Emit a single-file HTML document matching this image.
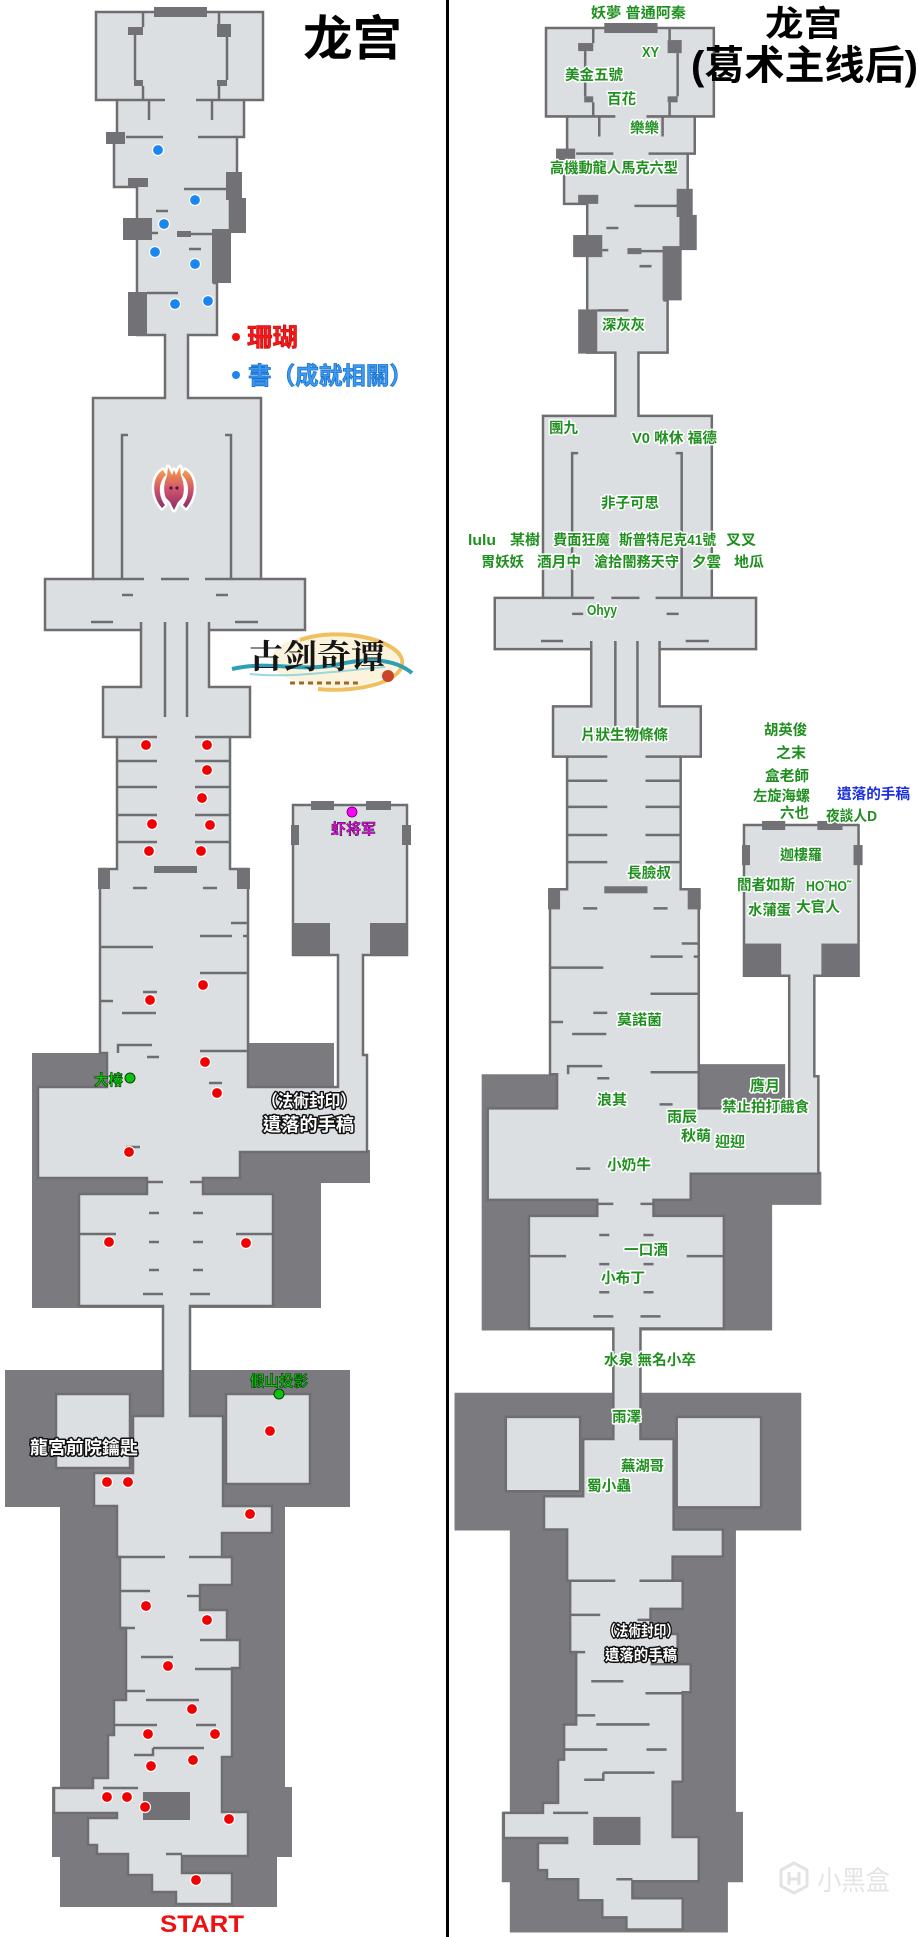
<!DOCTYPE html>
<html><head><meta charset="utf-8">
<style>
html,body{margin:0;padding:0;background:#fff;}
svg{display:block;}
.g{font-family:"Liberation Sans","Noto Sans CJK TC",sans-serif;font-size:14.5px;font-weight:bold;fill:#1f8f1f;stroke:#fff;stroke-width:3px;paint-order:stroke;stroke-linejoin:round;}
.b{font-family:"Liberation Sans","Noto Sans CJK TC",sans-serif;font-size:14.5px;font-weight:bold;fill:#1a2ee0;stroke:#fff;stroke-width:3px;paint-order:stroke;stroke-linejoin:round;}
.w{font-family:"Liberation Sans","Noto Sans CJK TC",sans-serif;font-weight:bold;fill:#fff;stroke:#111;stroke-width:3px;paint-order:stroke;stroke-linejoin:round;}
.t{font-family:"Liberation Sans","Noto Sans CJK SC",sans-serif;font-weight:bold;fill:#000;}
</style></head><body>
<svg width="918" height="1937" viewBox="0 0 918 1937" xmlns="http://www.w3.org/2000/svg">
<defs>
<linearGradient id="dg" x1="0" y1="0" x2="0" y2="1">
<stop offset="0" stop-color="#f5a04a"/><stop offset="0.5" stop-color="#d2566a"/><stop offset="1" stop-color="#8a2c6c"/>
</linearGradient>
<g id="map">
<!-- dark background areas -->
<path fill="#7b7a7e" d="M32 1053H250V1308H32Z M248 1043H334V1090H248Z M238 1150H370V1183H238Z M238 1150H321V1308H238Z"/>
<path fill="#7b7a7e" d="M5 1370H350V1507H285V1787H292V1857H277V1907H60V1857H52V1787H60V1507H5Z"/>
<!-- main light spine -->
<path fill="#dcdfe2" stroke="#6e6e71" stroke-width="2.5" stroke-linejoin="miter" d="M96 12H263V100H244V137H237V180H230V232H214V283H217V335H188V398H261V579H305V630H209V687H250V737H230V869H248V1087H338V955H293V805H407V955H363V1055H367V1152H240V1178H203V1194H273V1306H190V1416H223V1506H272V1533H222V1557H232V1585H200V1610H227V1640H240V1668H232V1757H222V1812H248V1856H182V1873H232V1904H176V1892H152V1875H128V1854H97V1845H88V1818H117V1813H54V1788H93V1778H108V1735H114V1700H126V1628H120V1557H117V1506H94V1473H133V1416H163V1306H79V1194H147V1178H38V1087H107V1053H100V869H117V737H103V687H141V630H45V579H93V398H165V335H137V187H114V137H117V100H96Z"/>
<rect x="56" y="1394" width="74" height="74" fill="#dcdfe2" stroke="#6e6e71" stroke-width="2.5"/>
<rect x="226" y="1394" width="84" height="90" fill="#dcdfe2" stroke="#6e6e71" stroke-width="2.5"/>
<!-- inner walls -->
<path fill="none" stroke="#6e6e71" stroke-width="2.5" d="
M143 12V27 M135 35V80 M143 86V100 M219 12V24 M227 37V80 M219 86V100
M117 100H165 M196 100H244 M149 100V120 M212 100V120 M126 137H163 M198 137H237 M184 189H228 M156 211H168 M152 233H158 M191 234H212 M189 249H201 M147 293H178
M128 435H122V579 M225 435H231V579 M93 579H144 M161 579H189 M205 579H261
M122 595H133 M216 595H228 M91 622H113 M235 622H258
M141 622V630 M209 622V630 M165 622V717 M187 622V717
M117 737H157 M195 737H230 M117 761H157 M195 761H230 M117 787H157 M195 787H230 M117 815H157 M195 815H230 M117 842H157 M195 842H230
M133 888H147 M203 888H217 M231 923H247 M200 936H232 M243 936H247 M100 947H153 M200 973H248 M143 992H157 M100 1001H113 M122 1013H156 M118 1053V1045H152 M147 1057H159 M200 1051H248
M209 1083H222 M126 1147H140
M147 1182H163 M190 1182H203
M149 1213H159 M193 1213H203 M149 1242H159 M193 1242H203 M149 1270H159 M193 1270H203 M143 1294H163 M190 1294H210 M79 1234H116 M236 1234H273
M117 1557H165 M189 1557H232 M120 1591H150 M187 1596H200 M120 1628H135 M200 1640H227 M141 1657H173 M195 1669H232 M126 1691H145 M146 1700H199 M113 1725H157 M196 1725H216 M153 1748H204 M153 1748V1755H134 M103 1788H138 M166 1854H182"/>
<!-- dark blocks -->
<g fill="#727175">
<rect x="154" y="7" width="53" height="10"/>
<rect x="128" y="27" width="15" height="8"/><rect x="134" y="80" width="9" height="6"/>
<rect x="217" y="24" width="14" height="13"/><rect x="217" y="80" width="10" height="6"/>
<rect x="106" y="132" width="19" height="12"/><rect x="128" y="178" width="20" height="9"/>
<rect x="226" y="172" width="16" height="28"/><rect x="230" y="198" width="16" height="35"/>
<rect x="123" y="218" width="29" height="22"/><rect x="177" y="231" width="14" height="6"/>
<rect x="212" y="229" width="19" height="54"/><rect x="128" y="292" width="19" height="44"/>
<rect x="154" y="866" width="43" height="7"/>
<rect x="98" y="868" width="12" height="21"/><rect x="237" y="868" width="13" height="21"/>
<rect x="311" y="801" width="23" height="9"/><rect x="366" y="801" width="25" height="9"/>
<rect x="291" y="825" width="8" height="20"/><rect x="402" y="825" width="9" height="20"/>
<rect x="293" y="923" width="37" height="32"/><rect x="370" y="923" width="37" height="32"/>
<rect x="143" y="1792" width="47" height="28"/>
</g>
</g>
</defs>

<use href="#map"/>
<use href="#map" transform="matrix(1.005 0 0 1.005 449.52 15.94)"/>

<!-- divider -->
<rect x="446" y="0" width="3" height="1937" fill="#000"/>

<!-- LEFT titles / legend -->
<text class="t" x="303" y="55" font-size="48" textLength="99" lengthAdjust="spacingAndGlyphs">龙宫</text>
<circle cx="236" cy="337" r="4" fill="#f01010"/>
<text x="247" y="346" font-family="Liberation Sans,Noto Sans CJK TC,sans-serif" font-size="25" font-weight="bold" fill="#f21a1a" stroke="#c00" stroke-width="0.6" textLength="51" lengthAdjust="spacingAndGlyphs">珊瑚</text>
<circle cx="236" cy="375" r="4" fill="#1a86f0"/>
<text x="248" y="384" font-family="Liberation Sans,Noto Sans CJK TC,sans-serif" font-size="24" font-weight="bold" fill="#3d9cf0" stroke="#1a6fd0" stroke-width="0.8" textLength="165" lengthAdjust="spacingAndGlyphs">書（成就相關）</text>

<!-- dragon icon -->
<g transform="translate(174,488)">
<g fill="#fff" stroke="#fff" stroke-width="5" stroke-linejoin="round">
<path d="M-7,-12 L-6,-21 L-2,-13 L0,-18 L2,-13 L6,-21 L7,-12 C10,-6 11,4 8,10 L4,14 L0,22 L-4,14 L-8,10 C-11,4 -10,-6 -7,-12 Z"/>
<path d="M-11,-18 C-22,-12 -23,8 -12,20 L-9,17 C-16,8 -16,-6 -8,-13 Z"/>
<path d="M11,-18 C22,-12 23,8 12,20 L9,17 C16,8 16,-6 8,-13 Z"/>
</g>
<g fill="url(#dg)">
<path d="M-7,-12 L-6,-21 L-2,-13 L0,-18 L2,-13 L6,-21 L7,-12 C10,-6 11,4 8,10 L4,14 L0,22 L-4,14 L-8,10 C-11,4 -10,-6 -7,-12 Z"/>
<path d="M-11,-18 C-22,-12 -23,8 -12,20 L-9,17 C-16,8 -16,-6 -8,-13 Z"/>
<path d="M11,-18 C22,-12 23,8 12,20 L9,17 C16,8 16,-6 8,-13 Z"/>
</g>
<circle cx="-3" cy="0" r="1.6" fill="#4a1a44"/><circle cx="3" cy="0" r="1.6" fill="#4a1a44"/>
</g>

<!-- logo -->
<g>
<ellipse cx="335" cy="660" rx="64" ry="27" fill="#fbf1d6" opacity="0.85"/>
<path d="M300 640 C340 626 398 640 402 660 C406 681 360 693 318 689" fill="none" stroke="#f0c060" stroke-width="4"/>
<path d="M232 669 C270 660 300 673 340 664 C372 657 396 660 412 673" fill="none" stroke="#2e9fb4" stroke-width="4"/>
<path d="M250 674 C290 678 330 672 385 667" fill="none" stroke="#9ad6dc" stroke-width="2"/>
<text x="249" y="668" font-family="Noto Serif CJK SC,serif" font-size="33" font-weight="bold" fill="#151515" textLength="136" lengthAdjust="spacingAndGlyphs">古剑奇谭</text>
<path d="M290 683 H360" stroke="#9a6a2a" stroke-width="3" stroke-dasharray="5 4"/>
<circle cx="388" cy="676" r="6" fill="#c8452a"/>
</g>

<!-- red dots (coral) -->
<g fill="#f00000" stroke="#fff" stroke-width="1.2">
<circle cx="146" cy="745" r="5.5"/><circle cx="207" cy="745" r="5.5"/><circle cx="207" cy="770" r="5.5"/><circle cx="202" cy="798" r="5.5"/>
<circle cx="152" cy="824" r="5.5"/><circle cx="210" cy="825" r="5.5"/><circle cx="149" cy="851" r="5.5"/><circle cx="201" cy="851" r="5.5"/>
<circle cx="150" cy="1000" r="5.5"/><circle cx="203" cy="985" r="5.5"/><circle cx="205" cy="1062" r="5.5"/><circle cx="217" cy="1093" r="5.5"/><circle cx="129" cy="1152" r="5.5"/>
<circle cx="109" cy="1242" r="5.5"/><circle cx="246" cy="1243" r="5.5"/>
<circle cx="270" cy="1431" r="5.5"/><circle cx="107" cy="1482" r="5.5"/><circle cx="128" cy="1482" r="5.5"/><circle cx="250" cy="1514" r="5.5"/>
<circle cx="146" cy="1606" r="5.5"/><circle cx="207" cy="1620" r="5.5"/><circle cx="168" cy="1666" r="5.5"/><circle cx="192" cy="1709" r="5.5"/>
<circle cx="148" cy="1734" r="5.5"/><circle cx="215" cy="1734" r="5.5"/><circle cx="151" cy="1766" r="5.5"/><circle cx="193" cy="1760" r="5.5"/>
<circle cx="107" cy="1797" r="5.5"/><circle cx="127" cy="1797" r="5.5"/><circle cx="145" cy="1807" r="5.5"/><circle cx="229" cy="1819" r="5.5"/>
<circle cx="196" cy="1880" r="5.5"/>
</g>
<!-- blue dots (books) -->
<g fill="#1a86f0" stroke="#fff" stroke-width="1.2">
<circle cx="158" cy="150" r="5.5"/><circle cx="195" cy="200" r="5.5"/><circle cx="164" cy="224" r="5.5"/><circle cx="155" cy="252" r="5.5"/>
<circle cx="195" cy="264" r="5.5"/><circle cx="175" cy="304" r="5.5"/><circle cx="208" cy="301" r="5.5"/>
</g>

<!-- left labels -->
<circle cx="352" cy="812" r="5" fill="#ff00ff" stroke="#600060" stroke-width="0.8"/>
<text x="331" y="834" font-family="Liberation Sans,Noto Sans CJK SC,sans-serif" font-size="15" font-weight="bold" fill="#ff00ff" stroke="#222" stroke-width="0.5" textLength="45" lengthAdjust="spacingAndGlyphs">虾将军</text>
<text x="94" y="1085" font-family="Liberation Sans,Noto Sans CJK TC,sans-serif" font-size="15" font-weight="bold" fill="#00d000" stroke="#0a300a" stroke-width="0.6" textLength="29" lengthAdjust="spacingAndGlyphs">大椿</text>
<circle cx="130" cy="1078" r="5" fill="#10c010" stroke="#064006" stroke-width="1"/>
<text class="w" x="262" y="1107" font-size="17" textLength="94" lengthAdjust="spacingAndGlyphs">（法術封印）</text>
<text class="w" x="263" y="1131" font-size="18" textLength="91" lengthAdjust="spacingAndGlyphs">遺落的手稿</text>
<text x="250" y="1386" font-family="Liberation Sans,Noto Sans CJK TC,sans-serif" font-size="15" font-weight="bold" fill="#00d000" stroke="#0a300a" stroke-width="0.6" textLength="58" lengthAdjust="spacingAndGlyphs">假山投影</text>
<circle cx="279" cy="1394" r="5" fill="#10c010" stroke="#064006" stroke-width="1"/>
<text class="w" x="30" y="1454" font-size="18" textLength="108" lengthAdjust="spacingAndGlyphs">龍宮前院鑰匙</text>
<text x="160" y="1932" font-family="Liberation Sans,sans-serif" font-size="24" font-weight="bold" fill="#f01010" textLength="84" lengthAdjust="spacingAndGlyphs">START</text>

<!-- RIGHT titles -->
<text class="t" x="765" y="36" font-size="35" textLength="77" lengthAdjust="spacingAndGlyphs">龙宫</text>
<text class="t" x="691" y="79" font-size="40" textLength="227" lengthAdjust="spacingAndGlyphs">(葛术主线后)</text>

<!-- right labels -->
<g>
<text class="g" x="591" y="18" textLength="95" lengthAdjust="spacingAndGlyphs">妖夢 普通阿秦</text>
<text class="g" x="642" y="57" textLength="17" lengthAdjust="spacingAndGlyphs">XY</text>
<text class="g" x="565" y="80" textLength="58" lengthAdjust="spacingAndGlyphs">美金五號</text>
<text class="g" x="607" y="104" textLength="29" lengthAdjust="spacingAndGlyphs">百花</text>
<text class="g" x="630" y="133" textLength="29" lengthAdjust="spacingAndGlyphs">樂樂</text>
<text class="g" x="550" y="173" textLength="128" lengthAdjust="spacingAndGlyphs">高機動龍人馬克六型</text>
<text class="g" x="602" y="330" textLength="43" lengthAdjust="spacingAndGlyphs">深灰灰</text>
<text class="g" x="549" y="433" textLength="29" lengthAdjust="spacingAndGlyphs">團九</text>
<text class="g" x="632" y="443" textLength="85" lengthAdjust="spacingAndGlyphs">V0 咻休 福德</text>
<text class="g" x="601" y="508" textLength="58" lengthAdjust="spacingAndGlyphs">非子可思</text>
<text class="g" x="468" y="545" textLength="28" lengthAdjust="spacingAndGlyphs">lulu</text>
<text class="g" x="510" y="545" textLength="30" lengthAdjust="spacingAndGlyphs">某樹</text>
<text class="g" x="553" y="545" textLength="57" lengthAdjust="spacingAndGlyphs">費面狂魔</text>
<text class="g" x="619" y="545" textLength="97" lengthAdjust="spacingAndGlyphs">斯普特尼克41號</text>
<text class="g" x="726" y="545" textLength="30" lengthAdjust="spacingAndGlyphs">叉叉</text>
<text class="g" x="481" y="567" textLength="43" lengthAdjust="spacingAndGlyphs">胃妖妖</text>
<text class="g" x="537" y="567" textLength="44" lengthAdjust="spacingAndGlyphs">酒月中</text>
<text class="g" x="594" y="567" textLength="85" lengthAdjust="spacingAndGlyphs">滄拾闇務天守</text>
<text class="g" x="692" y="567" textLength="29" lengthAdjust="spacingAndGlyphs">夕雲</text>
<text class="g" x="734" y="567" textLength="30" lengthAdjust="spacingAndGlyphs">地瓜</text>
<text class="g" x="587" y="615" textLength="30" lengthAdjust="spacingAndGlyphs">Ohyy</text>
<text class="g" x="581" y="740" textLength="87" lengthAdjust="spacingAndGlyphs">片狀生物條條</text>
<text class="g" x="764" y="735" textLength="43" lengthAdjust="spacingAndGlyphs">胡英俊</text>
<text class="g" x="776" y="758" textLength="30" lengthAdjust="spacingAndGlyphs">之末</text>
<text class="g" x="765" y="781" textLength="44" lengthAdjust="spacingAndGlyphs">盒老師</text>
<text class="g" x="753" y="801" textLength="57" lengthAdjust="spacingAndGlyphs">左旋海螺</text>
<text class="b" x="837" y="799" textLength="73" lengthAdjust="spacingAndGlyphs">遺落的手稿</text>
<text class="g" x="780" y="818" textLength="29" lengthAdjust="spacingAndGlyphs">六也</text>
<text class="g" x="826" y="821" textLength="51" lengthAdjust="spacingAndGlyphs">夜談人D</text>
<text class="g" x="780" y="860" textLength="42" lengthAdjust="spacingAndGlyphs">迦樓羅</text>
<text class="g" x="627" y="878" textLength="44" lengthAdjust="spacingAndGlyphs">長臉叔</text>
<text class="g" x="737" y="890" textLength="58" lengthAdjust="spacingAndGlyphs">閻者如斯</text>
<text class="g" x="806" y="891" textLength="45" lengthAdjust="spacingAndGlyphs">HO˜HO˜</text>
<text class="g" x="748" y="915" textLength="43" lengthAdjust="spacingAndGlyphs">水蒲蛋</text>
<text class="g" x="796" y="912" textLength="44" lengthAdjust="spacingAndGlyphs">大官人</text>
<text class="g" x="617" y="1025" textLength="45" lengthAdjust="spacingAndGlyphs">莫諾菌</text>
<text class="g" x="750" y="1091" textLength="30" lengthAdjust="spacingAndGlyphs">膺月</text>
<text class="g" x="722" y="1112" textLength="87" lengthAdjust="spacingAndGlyphs">禁止拍打餓食</text>
<text class="g" x="597" y="1105" textLength="30" lengthAdjust="spacingAndGlyphs">浪其</text>
<text class="g" x="667" y="1122" textLength="30" lengthAdjust="spacingAndGlyphs">雨辰</text>
<text class="g" x="681" y="1141" textLength="30" lengthAdjust="spacingAndGlyphs">秋萌</text>
<text class="g" x="715" y="1147" textLength="30" lengthAdjust="spacingAndGlyphs">迎迎</text>
<text class="g" x="607" y="1170" textLength="44" lengthAdjust="spacingAndGlyphs">小奶牛</text>
<text class="g" x="624" y="1255" textLength="44" lengthAdjust="spacingAndGlyphs">一口酒</text>
<text class="g" x="601" y="1283" textLength="44" lengthAdjust="spacingAndGlyphs">小布丁</text>
<text class="g" x="604" y="1365" textLength="92" lengthAdjust="spacingAndGlyphs">水泉 無名小卒</text>
<text class="g" x="612" y="1422" textLength="29" lengthAdjust="spacingAndGlyphs">雨澤</text>
<text class="g" x="621" y="1471" textLength="43" lengthAdjust="spacingAndGlyphs">蕪湖哥</text>
<text class="g" x="587" y="1491" textLength="44" lengthAdjust="spacingAndGlyphs">蜀小蟲</text>
<text class="w" x="603" y="1636" font-size="15" textLength="76" lengthAdjust="spacingAndGlyphs">（法術封印）</text>
<text class="w" x="605" y="1660" font-size="15" textLength="72" lengthAdjust="spacingAndGlyphs">遺落的手稿</text>
</g>

<!-- watermark -->
<g fill="none" stroke="#e3e3e3" stroke-width="3" stroke-linejoin="round">
<path d="M794 1863 L807 1870 V1886 L794 1893 L781 1886 V1870 Z"/>
<path d="M789 1872 V1885 M799 1872 V1885 M789 1879 H799"/>
</g>
<text x="817" y="1890" font-family="Liberation Sans,Noto Sans CJK SC,sans-serif" font-size="27" fill="#e4e4e4" textLength="73" lengthAdjust="spacingAndGlyphs">小黑盒</text>
</svg>
</body></html>
